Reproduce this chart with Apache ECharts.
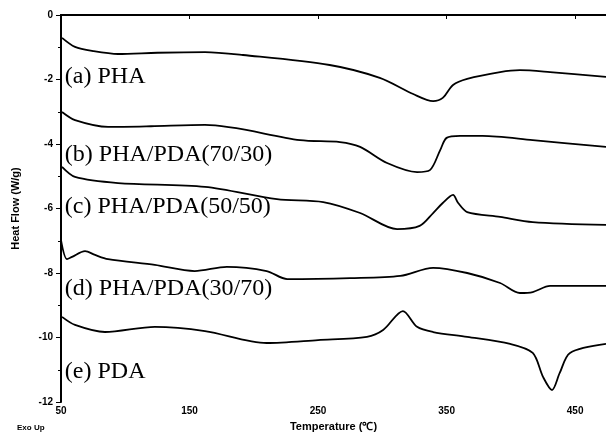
<!DOCTYPE html>
<html>
<head>
<meta charset="utf-8">
<script src="https://cdn.jsdelivr.net/npm/echarts@6/dist/echarts.min.js"></script>
<style>
html, body { margin: 0; padding: 0; background: #fff; }
#main { width: 606px; height: 437px; }
</style>
</head>
<body>
<div id="main"></div>
<script>
// DSC curves, [temperature, heat flow]
var curveA = [[50.8,-0.71],[60.9,-0.99],[75,-1.12],[94.4,-1.21],[125,-1.17],[162,-1.15],[191.6,-1.24],[259,-1.55],[298,-1.95],[324,-2.45],[339.5,-2.67],[347,-2.57],[355,-2.17],[366,-1.98],[391.6,-1.77],[407,-1.71],[430.5,-1.77],[474,-1.92]];
var curveB = [[50.8,-3.01],[60.9,-3.26],[86.6,-3.47],[120,-3.45],[162,-3.41],[236,-3.88],[267,-3.94],[282.7,-4.09],[303.7,-4.59],[327,-4.87],[337,-4.81],[345,-4.19],[350,-3.81],[360.5,-3.75],[378,-3.75],[417,-3.88],[474,-4.09]];
var curveC = [[50.8,-4.71],[60.9,-5.02],[94.4,-5.21],[162,-5.33],[218,-5.71],[254,-5.80],[282.7,-6.14],[311.5,-6.64],[329,-6.54],[339.5,-6.14],[347,-5.83],[355,-5.58],[359,-5.83],[366,-6.11],[391.6,-6.26],[417,-6.42],[474,-6.51]];
var curveD = [[50,-6.98],[54.7,-7.57],[58.6,-7.50],[68.7,-7.32],[76.5,-7.44],[86.6,-7.57],[123,-7.75],[154,-7.94],[179,-7.81],[210,-7.94],[226,-8.19],[275,-8.16],[314,-8.09],[339.5,-7.84],[366,-8.0],[391.6,-8.31],[407,-8.62],[417,-8.59],[430.5,-8.40],[474,-8.40]];
var curveE = [[50.8,-9.36],[60.9,-9.61],[84.2,-9.83],[123,-9.67],[162,-9.80],[210,-10.17],[250,-10.08],[288,-9.98],[300.6,-9.77],[316,-9.18],[327,-9.67],[339.5,-9.83],[366,-9.98],[399.4,-10.20],[417,-10.48],[425,-11.22],[432,-11.63],[438,-11.10],[446,-10.48],[474,-10.20]];

// curve labels and where they sit (data coords of left/middle)
var labelTexts = ['(a) PHA', '(b) PHA/PDA(70/30)', '(c) PHA/PDA(50/50)', '(d) PHA/PDA(30/70)', '(e) PDA'];
var labelT = [53, 53, 53, 53, 53];
var labelV = [-1.92, -4.34, -5.95, -8.5, -11.07];

var myChart = echarts.init(document.getElementById('main'));

var curves = [curveA, curveB, curveC, curveD, curveE];
var series = [];
for (var i = 0; i < curves.length; i++) {
    series.push({
        type: 'line',
        data: curves[i],
        showSymbol: false,
        smooth: 0.3,
        lineStyle: { color: '#000', width: 1.8 }
    });
}

var boldFont = { color: '#000', fontFamily: 'Liberation Sans', fontWeight: 'bold' };

var option = {
    animation: false,
    backgroundColor: '#fff',
    grid: { left: 61, top: 15, right: 0, bottom: 35 },
    xAxis: [{
        type: 'value',
        min: 50, max: 474, interval: 100,
        name: 'Temperature (\u2103)',
        nameLocation: 'middle',
        nameGap: 19,
        nameTextStyle: Object.assign({ fontSize: 11 }, boldFont),
        axisLine: { lineStyle: { color: '#000', width: 2 } },
        axisTick: { show: true, length: 4, lineStyle: { color: '#000', width: 1 } },
        axisLabel: Object.assign({ margin: 4, showMaxLabel: false, fontSize: 10 }, boldFont),
        splitLine: { show: false }
    }, {
        // top frame line
        type: 'value',
        position: 'top',
        min: 50, max: 474,
        axisLine: { show: true, lineStyle: { color: '#000', width: 2 } },
        axisTick: { show: false },
        axisLabel: { show: false },
        splitLine: { show: false }
    }],
    yAxis: {
        type: 'value',
        min: -12, max: 0, interval: 2,
        name: 'Heat Flow (W/g)',
        nameLocation: 'middle',
        nameGap: 40,
        nameRotate: 90,
        nameTextStyle: Object.assign({ fontSize: 11 }, boldFont),
        axisLine: { lineStyle: { color: '#000', width: 2 } },
        axisTick: { show: true, length: 5, lineStyle: { color: '#000', width: 1 } },
        minorTick: { show: true, splitNumber: 2, length: 3, lineStyle: { color: '#000', width: 1 } },
        axisLabel: Object.assign({ margin: 8, fontSize: 10 }, boldFont),
        splitLine: { show: false }
    },
    series: series
};

myChart.setOption(option);

// curve labels placed through the chart's own scales
var graphics = [];
for (var j = 0; j < labelTexts.length; j++) {
    var p = myChart.convertToPixel({ gridIndex: 0 }, [labelT[j], labelV[j]]);
    graphics.push({
        type: 'text',
        x: p[0], y: p[1],
        style: {
            text: labelTexts[j],
            fill: '#000',
            font: '24px "Liberation Serif"',
            textAlign: 'left',
            textVerticalAlign: 'middle'
        }
    });
}
graphics.push({
    type: 'text',
    left: 17, top: 424,
    style: { text: 'Exo Up', fill: '#000', font: 'bold 8px "Liberation Sans"' }
});
myChart.setOption({ graphic: graphics });
</script>
</body>
</html>
